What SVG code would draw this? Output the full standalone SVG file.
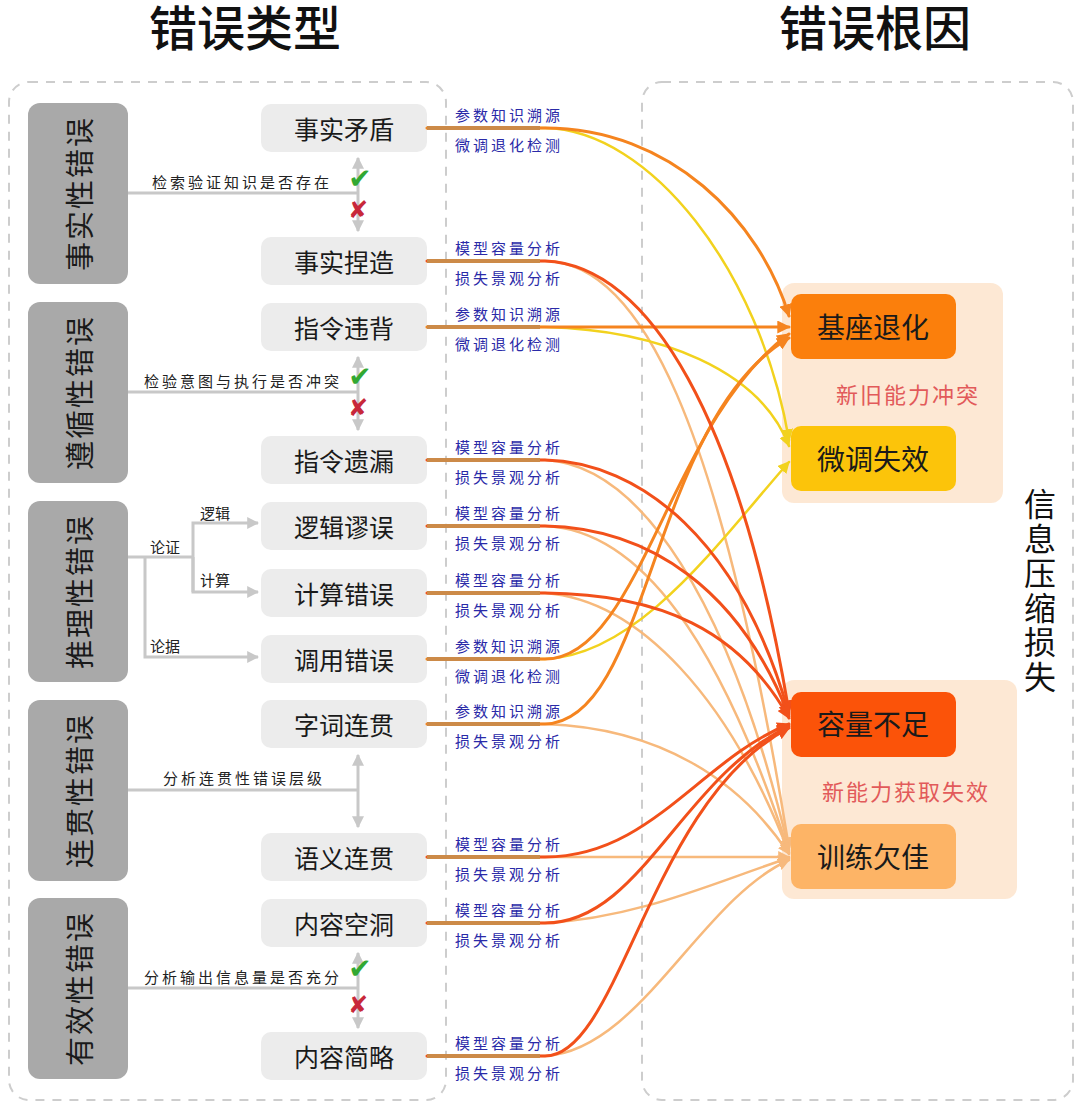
<svg xmlns="http://www.w3.org/2000/svg" width="1080" height="1109" viewBox="0 0 1080 1109">
<defs>
<style>
text{font-family:"Noto Sans CJK SC","Noto Sans",sans-serif}
.title{font-size:48px;fill:#111;text-anchor:middle;font-weight:500}
.frame{fill:none;stroke:#cdcdcd;stroke-width:2;stroke-dasharray:9 8}
.cat{fill:#a9a9a9}
.catt{font-size:29px;fill:#1a1a1a;text-anchor:middle;dominant-baseline:central;letter-spacing:2px}
.leaf{fill:#ececec}
.leaft{font-size:25px;fill:#1a1a1a;text-anchor:middle;dominant-baseline:central}
.gl{fill:none;stroke:#c8c8c8;stroke-width:3}
.note{font-size:15px;fill:#222;dominant-baseline:central;letter-spacing:3px}
.br{font-size:15px;fill:#222;dominant-baseline:central}
.blue{font-size:15px;fill:#2a2aa8;dominant-baseline:central;letter-spacing:3px}
.ok{font-family:"DejaVu Sans",sans-serif;font-size:28px;fill:#32a832;text-anchor:middle;dominant-baseline:central}
.no{font-family:"DejaVu Sans",sans-serif;font-size:24px;fill:#c8283a;text-anchor:middle;dominant-baseline:central}
.grp{fill:#fde4cc;opacity:0.85}
.tgt{font-size:28px;fill:#1a1a1a;text-anchor:middle;dominant-baseline:central}
.sub{font-size:22px;fill:#e25a5a;text-anchor:middle;dominant-baseline:central;letter-spacing:2px}
.vt{font-size:32px;fill:#111;writing-mode:vertical-rl;letter-spacing:2.5px}
.c{fill:none;stroke-linecap:round}
.cb{stroke:#f5841f;stroke-width:3}
.cy{stroke:#f2d21e;stroke-width:2.5}
.cr{stroke:#f2501a;stroke-width:3}
.ct{stroke:#f7b97c;stroke-width:2.5}
.stub{stroke:#cc8a48;stroke-width:4;fill:none}
</style>
<marker id="ag" viewBox="0 0 10 10" refX="9" refY="5" markerWidth="12" markerHeight="12" markerUnits="userSpaceOnUse" orient="auto-start-reverse"><path d="M0,0 L10,5 L0,10 z" fill="#c8c8c8"/></marker>
<marker id="ab" viewBox="0 0 10 10" refX="9" refY="5" markerWidth="13" markerHeight="13" markerUnits="userSpaceOnUse" orient="auto"><path d="M0,0 L10,5 L0,10 z" fill="#f5841f"/></marker>
<marker id="ay" viewBox="0 0 10 10" refX="9" refY="5" markerWidth="12" markerHeight="12" markerUnits="userSpaceOnUse" orient="auto"><path d="M0,0 L10,5 L0,10 z" fill="#f2d21e"/></marker>
<marker id="ar" viewBox="0 0 10 10" refX="9" refY="5" markerWidth="13" markerHeight="13" markerUnits="userSpaceOnUse" orient="auto"><path d="M0,0 L10,5 L0,10 z" fill="#f2501a"/></marker>
<marker id="at" viewBox="0 0 10 10" refX="9" refY="5" markerWidth="12" markerHeight="12" markerUnits="userSpaceOnUse" orient="auto"><path d="M0,0 L10,5 L0,10 z" fill="#f7b97c"/></marker>
</defs>
<rect width="1080" height="1109" fill="#ffffff"/>

<g id="titles">
<text class="title" x="245" y="46">错误类型</text>
<text class="title" x="875" y="46">错误根因</text>
</g>

<g id="frames">
<rect class="frame" x="9" y="82" width="437" height="1018" rx="20"/>
<rect class="frame" x="642" y="82" width="431" height="1018" rx="20"/>
</g>

<g id="root-groups">
<rect class="grp" x="782" y="283" width="221" height="220" rx="12"/>
<rect class="grp" x="782" y="680" width="235" height="219" rx="12"/>
<text class="sub" x="908" y="393">新旧能力冲突</text>
<text class="sub" x="906" y="790">新能力获取失效</text>
</g>

<g id="structure-lines">
<line class="gl" x1="128" y1="193" x2="358" y2="193"/>
<line class="gl" x1="358" y1="158" x2="358" y2="231" marker-start="url(#ag)" marker-end="url(#ag)"/>
<text class="note" x="152" y="181">检索验证知识是否存在</text>
<text class="ok" x="360" y="178">✔</text>
<text class="no" x="358" y="210">✘</text>
<line class="gl" x1="128" y1="392" x2="358" y2="392"/>
<line class="gl" x1="358" y1="357" x2="358" y2="430" marker-start="url(#ag)" marker-end="url(#ag)"/>
<text class="note" x="144" y="380">检验意图与执行是否冲突</text>
<text class="ok" x="360" y="376">✔</text>
<text class="no" x="358" y="408">✘</text>
<polyline class="gl" points="128,557 193,557"/>
<polyline class="gl" points="145,557 145,657 258,657" marker-end="url(#ag)"/>
<polyline class="gl" points="193,592 193,523 258,523" marker-end="url(#ag)"/>
<polyline class="gl" points="193,557 193,592 258,592" marker-end="url(#ag)"/>
<text class="br" x="150" y="546">论证</text>
<text class="br" x="200" y="512">逻辑</text>
<text class="br" x="200" y="579">计算</text>
<text class="br" x="150" y="645">论据</text>
<line class="gl" x1="128" y1="790" x2="358" y2="790"/>
<line class="gl" x1="358" y1="755" x2="358" y2="827" marker-start="url(#ag)" marker-end="url(#ag)"/>
<text class="note" x="163" y="777">分析连贯性错误层级</text>
<line class="gl" x1="128" y1="988" x2="358" y2="988"/>
<line class="gl" x1="358" y1="953" x2="358" y2="1028" marker-start="url(#ag)" marker-end="url(#ag)"/>
<text class="note" x="144" y="976">分析输出信息量是否充分</text>
<text class="ok" x="360" y="968">✔</text>
<text class="no" x="358" y="1005">✘</text>
</g>

<g id="cat-factual"><rect class="cat" x="28" y="103" width="100" height="181" rx="12"/><text class="catt" transform="translate(78,193.5) rotate(-90)">事实性错误</text></g>
<g id="cat-following"><rect class="cat" x="28" y="302" width="100" height="181" rx="12"/><text class="catt" transform="translate(78,392.5) rotate(-90)">遵循性错误</text></g>
<g id="cat-reasoning"><rect class="cat" x="28" y="501" width="100" height="181" rx="12"/><text class="catt" transform="translate(78,591.5) rotate(-90)">推理性错误</text></g>
<g id="cat-coherence"><rect class="cat" x="28" y="700" width="100" height="181" rx="12"/><text class="catt" transform="translate(78,790.5) rotate(-90)">连贯性错误</text></g>
<g id="cat-effectiveness"><rect class="cat" x="28" y="898" width="100" height="181" rx="12"/><text class="catt" transform="translate(78,988.5) rotate(-90)">有效性错误</text></g>

<g id="leaf-1"><rect class="leaf" x="261" y="104" width="166" height="48" rx="10"/><text class="leaft" x="344" y="128">事实矛盾</text></g>
<g id="leaf-2"><rect class="leaf" x="261" y="237" width="166" height="48" rx="10"/><text class="leaft" x="344" y="261">事实捏造</text></g>
<g id="leaf-3"><rect class="leaf" x="261" y="303" width="166" height="48" rx="10"/><text class="leaft" x="344" y="327">指令违背</text></g>
<g id="leaf-4"><rect class="leaf" x="261" y="436" width="166" height="48" rx="10"/><text class="leaft" x="344" y="460">指令遗漏</text></g>
<g id="leaf-5"><rect class="leaf" x="261" y="502" width="166" height="48" rx="10"/><text class="leaft" x="344" y="526">逻辑谬误</text></g>
<g id="leaf-6"><rect class="leaf" x="261" y="569" width="166" height="48" rx="10"/><text class="leaft" x="344" y="593">计算错误</text></g>
<g id="leaf-7"><rect class="leaf" x="261" y="635" width="166" height="48" rx="10"/><text class="leaft" x="344" y="659">调用错误</text></g>
<g id="leaf-8"><rect class="leaf" x="261" y="700" width="166" height="48" rx="10"/><text class="leaft" x="344" y="724">字词连贯</text></g>
<g id="leaf-9"><rect class="leaf" x="261" y="833" width="166" height="48" rx="10"/><text class="leaft" x="344" y="857">语义连贯</text></g>
<g id="leaf-10"><rect class="leaf" x="261" y="899" width="166" height="48" rx="10"/><text class="leaft" x="344" y="923">内容空洞</text></g>
<g id="leaf-11"><rect class="leaf" x="261" y="1032" width="166" height="48" rx="10"/><text class="leaft" x="344" y="1056">内容简略</text></g>

<g id="method-labels">
<text class="blue" x="455" y="114">参数知识溯源</text><text class="blue" x="455" y="144">微调退化检测</text>
<text class="blue" x="455" y="247">模型容量分析</text><text class="blue" x="455" y="277">损失景观分析</text>
<text class="blue" x="455" y="313">参数知识溯源</text><text class="blue" x="455" y="343">微调退化检测</text>
<text class="blue" x="455" y="446">模型容量分析</text><text class="blue" x="455" y="476">损失景观分析</text>
<text class="blue" x="455" y="512">模型容量分析</text><text class="blue" x="455" y="542">损失景观分析</text>
<text class="blue" x="455" y="579">模型容量分析</text><text class="blue" x="455" y="609">损失景观分析</text>
<text class="blue" x="455" y="645">参数知识溯源</text><text class="blue" x="455" y="675">微调退化检测</text>
<text class="blue" x="455" y="710">参数知识溯源</text><text class="blue" x="455" y="740">损失景观分析</text>
<text class="blue" x="455" y="843">模型容量分析</text><text class="blue" x="455" y="873">损失景观分析</text>
<text class="blue" x="455" y="909">模型容量分析</text><text class="blue" x="455" y="939">损失景观分析</text>
<text class="blue" x="455" y="1042">模型容量分析</text><text class="blue" x="455" y="1072">损失景观分析</text>
</g>

<g id="connectors">
<path class="c ct" marker-end="url(#at)" d="M427,261 H545 C640,262 720,420 789,848"/>
<path class="c ct" marker-end="url(#at)" d="M427,460 H545 C640,465 730,600 789,850"/>
<path class="c ct" marker-end="url(#at)" d="M427,526 H545 C640,530 720,640 789,852"/>
<path class="c ct" marker-end="url(#at)" d="M427,593 H545 C640,600 730,700 789,853"/>
<path class="c ct" marker-end="url(#at)" d="M427,724 H545 C660,728 740,780 789,854"/>
<path class="c ct" marker-end="url(#at)" d="M427,857 H789"/>
<path class="c ct" marker-end="url(#at)" d="M427,923 H545 C640,918 720,880 789,858"/>
<path class="c ct" marker-end="url(#at)" d="M427,1056 H545 C640,1050 700,900 789,860"/>
<path class="c cy" marker-end="url(#ay)" d="M427,128 H545 C650,130 760,270 789,440"/>
<path class="c cy" marker-end="url(#ay)" d="M427,327 H545 C660,330 760,370 789,446"/>
<path class="c cy" marker-end="url(#ay)" d="M427,659 H545 C640,655 720,540 789,462"/>
<path class="c cb" marker-end="url(#ab)" d="M427,128 H545 C670,128 760,220 789,316"/>
<path class="c cb" marker-end="url(#ab)" d="M427,327 H789"/>
<path class="c cb" marker-end="url(#ab)" d="M427,659 H545 C640,659 670,420 789,334"/>
<path class="c cb" marker-end="url(#ab)" d="M427,724 H545 C650,722 650,420 789,338"/>
<path class="c cr" marker-end="url(#ar)" d="M427,261 H545 C650,265 740,420 789,712"/>
<path class="c cr" marker-end="url(#ar)" d="M427,460 H545 C640,462 740,540 789,714"/>
<path class="c cr" marker-end="url(#ar)" d="M427,526 H545 C650,528 740,590 789,716"/>
<path class="c cr" marker-end="url(#ar)" d="M427,593 H545 C660,594 740,630 789,718"/>
<path class="c cr" marker-end="url(#ar)" d="M427,857 H545 C650,857 700,760 789,724"/>
<path class="c cr" marker-end="url(#ar)" d="M427,923 H545 C640,923 680,780 789,726"/>
<path class="c cr" marker-end="url(#ar)" d="M427,1056 H545 C620,1056 650,800 789,728"/>
<path class="stub" d="M427,128 H540 M427,261 H540 M427,327 H540 M427,460 H540 M427,526 H540 M427,593 H540 M427,659 H540 M427,724 H540 M427,857 H540 M427,923 H540 M427,1056 H540"/>
</g>

<g id="root-base"><rect x="791" y="294" width="165" height="65" rx="10" fill="#fb7f0c"/><text class="tgt" x="873" y="326">基座退化</text></g>
<g id="root-finetune"><rect x="791" y="426" width="165" height="65" rx="10" fill="#fcc40a"/><text class="tgt" x="873" y="458">微调失效</text></g>
<g id="root-capacity"><rect x="791" y="692" width="165" height="65" rx="10" fill="#fb5309"/><text class="tgt" x="873" y="723">容量不足</text></g>
<g id="root-training"><rect x="791" y="824" width="165" height="65" rx="10" fill="#fdb466"/><text class="tgt" x="873" y="856">训练欠佳</text></g>

<g id="side-label">
<text class="vt" x="1040" y="488">信息压缩损失</text>
</g>
</svg>
